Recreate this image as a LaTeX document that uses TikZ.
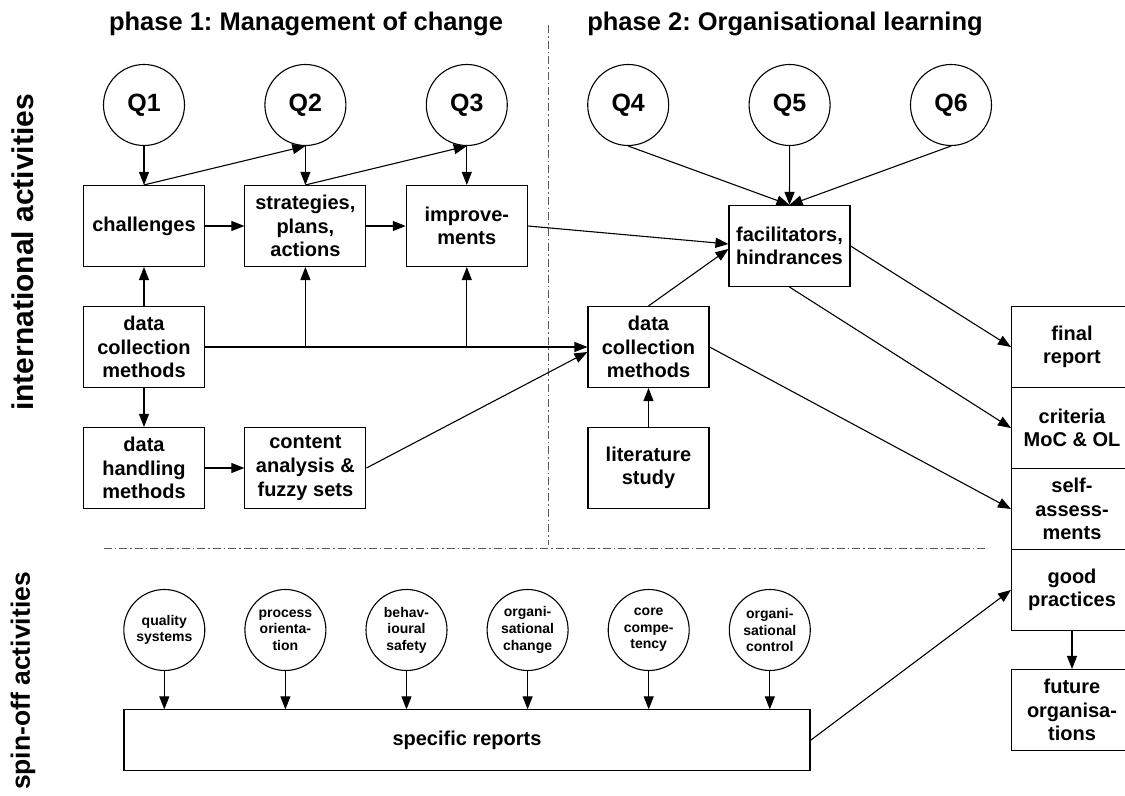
\documentclass[tikz,border=0pt]{standalone}
\usepackage{fontspec}
\setmainfont{Liberation Sans}
\frenchspacing
\usetikzlibrary{positioning,arrows.meta}
\tikzset{>={Triangle[length=6.5pt,width=5pt]}}

\begin{document}
\begin{tikzpicture}[x=0.5pt, y=-0.5pt, line width=0.55pt, node distance=80.7pt,
    box/.style={draw, minimum width=60.5pt, minimum height=40.5pt, inner sep=1pt, align=center,
                font=\fontsize{10}{11.8}\selectfont\bfseries},
    qnode/.style={draw, circle, minimum size=40.5pt, inner sep=0pt,
                  font=\fontsize{12.5}{15}\selectfont\bfseries},
    topic/.style={draw, circle, minimum size=40.5pt, inner sep=0pt, align=center,
                  font=\fontsize{7}{8.3}\selectfont\bfseries},
    sep/.style={black!65, line width=0.5pt, dash pattern=on 4pt off 1.5pt on 0.8pt off 1.5pt},
    phase/.style={font=\fontsize{12.75}{15}\selectfont\bfseries}]
  \useasboundingbox (0,0) rectangle (1125,796);

  % titles and side labels
  \node[phase] (ph1) at (306,24) {phase 1: Management of change};
  \node[phase] (ph2) at (785,24) {phase 2: Organisational learning};
  \node[rotate=90, font=\fontsize{15}{18}\selectfont\bfseries] (intl) at (22.5,252.5) {international activities};
  \node[rotate=90, font=\fontsize{13.25}{16}\selectfont\bfseries] (spin) at (23,681) {spin-off activities};

  % research questions
  \node[qnode] (Q1) at (144,105) {Q1};
  \node[qnode] (Q2) [right of=Q1] {Q2};
  \node[qnode] (Q3) [right of=Q2] {Q3};
  \node[qnode] (Q4) [right of=Q3] {Q4};
  \node[qnode] (Q5) [right of=Q4] {Q5};
  \node[qnode] (Q6) [right of=Q5] {Q6};

  % phase 1
  \node[box] (chal) at (144,226) {challenges};
  \node[box] (strat) [right of=chal] {strategies,\\plans,\\actions};
  \node[box] (impr) [right of=strat] {improve-\\ments};
  \node[box] (dcmL) at (144,347) {data\\collection\\methods};
  \node[box] (dh) at (144,468) {data\\handling\\methods};
  \node[box] (ca) [right of=dh] {content\\analysis \&\\fuzzy sets};

  % phase 2
  \node[box] (fac) at (789.5,246) {facilitators,\\hindrances};
  \node[box] (dcmR) at (648.5,347) {data\\collection\\methods};
  \node[box] (lit) at (648.5,468) {literature\\study};

  % results
  \node[box] (fin) at (1072,347) {final\\report};
  \node[box] (crit) at (1072,428) {criteria\\MoC \& OL};
  \node[box] (self) at (1072,509) {self-\\assess-\\ments};
  \node[box] (good) at (1072,590) {good\\practices};
  \node[box] (fut) at (1072,710) {future\\organisa-\\tions};

  % spin-off
  \node[topic] (t1) at (164.3,630) {quality\\systems};
  \node[topic] (t2) at (285.4,630) {process\\orienta-\\tion};
  \node[topic] (t3) at (406.5,630) {behav-\\ioural\\safety};
  \node[topic] (t4) at (527.6,630) {organi-\\sational\\change};
  \node[topic] (t5) at (648.7,630) {core\\compe-\\tency};
  \node[topic] (t6) at (769.8,630) {organi-\\sational\\control};
  \node[box, minimum width=343pt, minimum height=30.4pt] (spec) at (467,740.3) {specific reports};

  \draw[sep] (548.3,25) -- (548.3,545);
  \draw[sep] (103.6,549) -- (988,549);

  \path[->]
  (Q1) edge (chal)
  (Q2) edge (strat)
  (Q3) edge (impr)
  (chal.north) edge (Q2.south)
  (strat.north) edge (Q3.south)
  (chal) edge (strat)
  (strat) edge (impr)
  (impr.east) edge ([yshift=1pt]fac.west)
  (dcmL) edge (chal)
  (dcmL) edge (dh)
  (dh) edge (ca)
  (dcmL.east) edge (dcmR.west)
  (ca.east) edge ([yshift=-2.5pt]dcmR.west)
  (dcmR.north) edge ([yshift=-1.5pt]fac.west)
  (lit) edge (dcmR)
  (Q4.south) edge (fac.north)
  (Q5) edge (fac)
  (Q6.south) edge (fac.north)
  (fac.east) edge (fin.west)
  (fac.south) edge (crit.west)
  (dcmR.east) edge (self.west)
  (spec.east) edge (good.west)
  (good) edge (fut);

  \draw[->] (strat |- dcmL.east) -- (strat.south);
  \draw[->] (impr |- dcmL.east) -- (impr.south);

  \foreach \t in {t1,t2,t3,t4,t5,t6}
    \draw[->] (\t) -- (\t |- spec.north);
\end{tikzpicture}
\end{document}
